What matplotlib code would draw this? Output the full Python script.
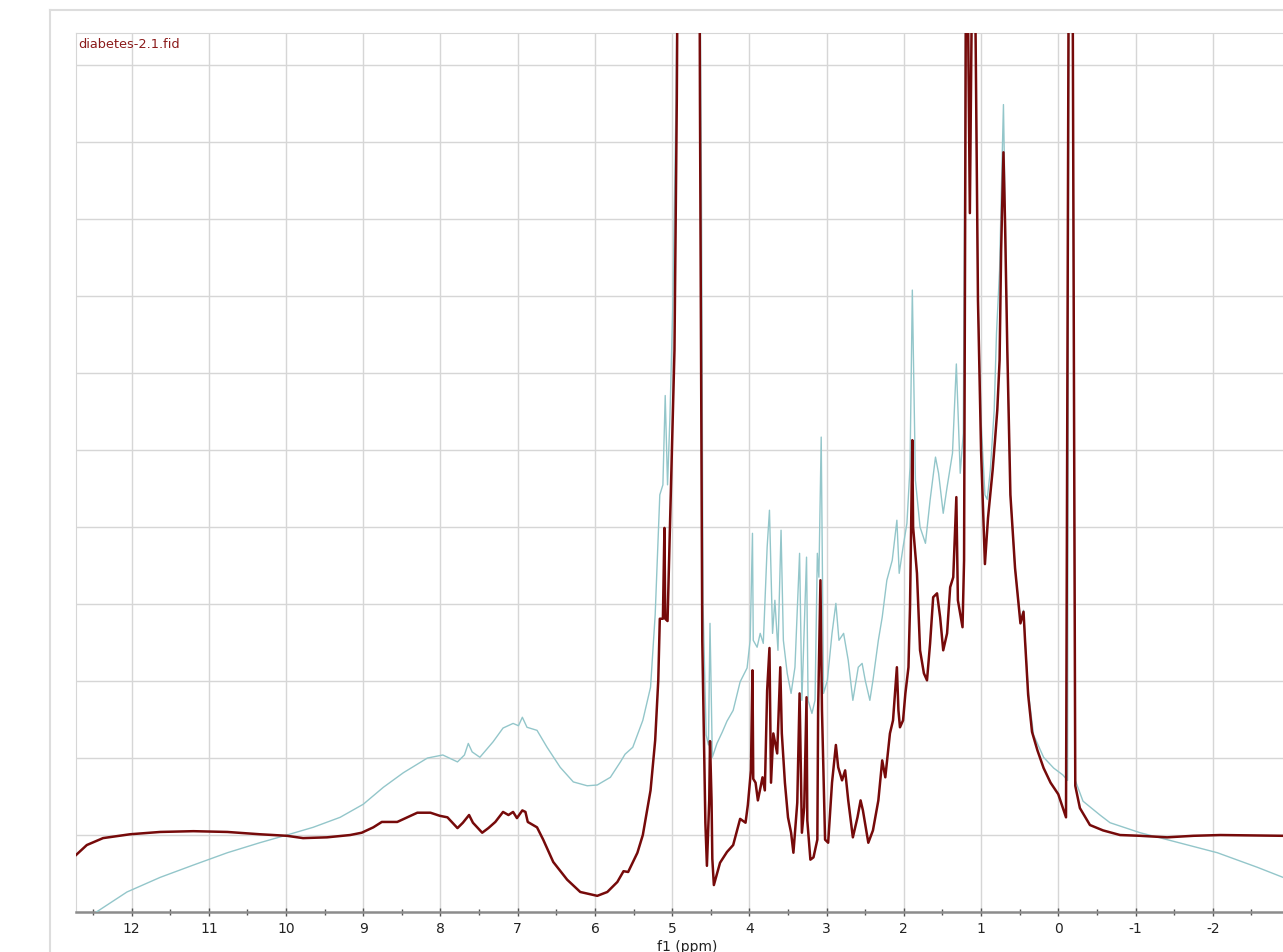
import matplotlib
matplotlib.use("Agg")
import matplotlib.pyplot as plt
from matplotlib.lines import Line2D
from matplotlib.ticker import MultipleLocator
import numpy as np

# processed spectrum (dark red), chemical shift in ppm and relative intensity
red_ppm = [12.72, 12.58, 12.37, 12.02, 11.63, 11.20, 10.76, 10.34, 9.99, 9.78, 9.47, 9.17, 9.02, 8.87, 8.76,
           8.56, 8.30, 8.13, 8.01, 7.91, 7.78, 7.71, 7.63, 7.58, 7.46, 7.38, 7.29, 7.19, 7.12, 7.06, 7.01,
           6.94, 6.90, 6.87, 6.75, 6.67, 6.54, 6.36, 6.19, 5.97, 5.84, 5.71, 5.63, 5.57, 5.45, 5.38, 5.28,
           5.22, 5.18, 5.16, 5.12, 5.10, 5.09, 5.06, 5.03, 4.97, 4.94, 4.92, 4.79, 4.65, 4.64, 4.61, 4.57,
           4.55, 4.52, 4.51, 4.49, 4.48, 4.46, 4.38, 4.29, 4.21, 4.12, 4.05, 4.02, 3.98, 3.96, 3.95, 3.92,
           3.89, 3.83, 3.80, 3.77, 3.74, 3.72, 3.69, 3.64, 3.60, 3.58, 3.54, 3.50, 3.46, 3.43, 3.38, 3.35,
           3.32, 3.29, 3.26, 3.25, 3.21, 3.17, 3.12, 3.11, 3.08, 3.06, 3.02, 2.98, 2.93, 2.88, 2.85, 2.80,
           2.76, 2.72, 2.66, 2.60, 2.56, 2.53, 2.46, 2.40, 2.33, 2.28, 2.24, 2.18, 2.14, 2.09, 2.07, 2.05,
           2.01, 1.98, 1.94, 1.92, 1.89, 1.88, 1.83, 1.79, 1.74, 1.70, 1.66, 1.62, 1.57, 1.53, 1.49, 1.44,
           1.40, 1.36, 1.32, 1.30, 1.24, 1.22, 1.19, 1.145, 1.10, 1.07, 1.04, 1.00, 0.95, 0.91, 0.85, 0.82,
           0.79, 0.76, 0.74, 0.71, 0.69, 0.66, 0.62, 0.56, 0.49, 0.45, 0.43, 0.39, 0.34, 0.27, 0.19, 0.10,
           0.00, -0.06, -0.10, -0.14, -0.18, -0.22, -0.28, -0.41, -0.58, -0.80, -1.06, -1.41, -1.75, -2.10,
           -2.91]
red_int = [0.74, 0.87, 0.96, 1.01, 1.04, 1.05, 1.04, 1.01, 0.99, 0.96, 0.97, 1.00, 1.03, 1.10, 1.17,
           1.17, 1.29, 1.29, 1.25, 1.23, 1.09, 1.16, 1.26, 1.16, 1.03, 1.09, 1.17, 1.30, 1.26, 1.30, 1.22,
           1.32, 1.30, 1.17, 1.10, 0.94, 0.65, 0.42, 0.26, 0.21, 0.26, 0.39, 0.53, 0.52, 0.77, 1.00, 1.58,
           2.23, 3.01, 3.81, 3.81, 4.99, 3.81, 3.78, 4.94, 7.30, 10.55, 14.0, 14.0, 14.0, 10.55, 3.52, 1.16,
           0.60, 1.45, 2.22, 1.45, 0.69, 0.35, 0.64, 0.78, 0.87, 1.21, 1.16, 1.39, 1.84, 3.14, 1.73, 1.68,
           1.45, 1.75, 1.58, 2.88, 3.43, 1.68, 2.32, 2.06, 3.18, 2.32, 1.68, 1.23, 1.03, 0.77, 1.42, 2.84,
           1.03, 1.36, 2.79, 1.19, 0.68, 0.71, 0.94, 2.62, 4.31, 2.62, 0.94, 0.90, 1.68, 2.17, 1.88, 1.71,
           1.84, 1.45, 0.97, 1.23, 1.45, 1.32, 0.90, 1.06, 1.45, 1.97, 1.75, 2.32, 2.49, 3.18, 2.62, 2.40,
           2.49, 2.84, 3.18, 3.96, 6.13, 5.00, 4.40, 3.40, 3.10, 3.01, 3.49, 4.09, 4.14, 3.83, 3.40, 3.62,
           4.22, 4.35, 5.39, 4.05, 3.70, 4.57, 14.0, 9.08, 14.0, 11.30, 7.95, 6.00, 4.52, 5.12, 5.74, 6.12,
           6.52, 7.17, 8.60, 9.87, 8.99, 7.30, 5.42, 4.47, 3.75, 3.90, 3.52, 2.82, 2.34, 2.10, 1.87, 1.68,
           1.53, 1.35, 1.23, 14.0, 14.0, 1.64, 1.35, 1.13, 1.06, 1.00, 0.99, 0.97, 0.99, 1.00,
           0.99]

# raw spectrum (light teal)
cyan_ppm = [12.72, 12.41, 12.06, 11.63, 11.20, 10.76, 10.34, 9.99, 9.65, 9.30, 9.00, 8.74, 8.48, 8.17,
            7.97, 7.78, 7.69, 7.64, 7.59, 7.49, 7.32, 7.19, 7.06, 6.99, 6.94, 6.88, 6.75, 6.62, 6.45, 6.28,
            6.10, 5.97, 5.80, 5.67, 5.61, 5.51, 5.38, 5.28, 5.22, 5.16, 5.12, 5.09, 5.06, 5.03, 4.99, 4.95,
            4.92, 4.79, 4.65, 4.62, 4.60, 4.56, 4.53, 4.51, 4.48, 4.42, 4.35, 4.29, 4.21, 4.12, 4.03, 3.99,
            3.96, 3.95, 3.90, 3.86, 3.82, 3.77, 3.74, 3.70, 3.67, 3.63, 3.59, 3.56, 3.51, 3.46, 3.41, 3.35,
            3.32, 3.26, 3.24, 3.19, 3.15, 3.12, 3.10, 3.07, 3.04, 2.99, 2.93, 2.88, 2.84, 2.78, 2.72, 2.66,
            2.59, 2.54, 2.50, 2.44, 2.40, 2.33, 2.28, 2.22, 2.15, 2.09, 2.06, 2.01, 1.96, 1.92, 1.89, 1.85,
            1.79, 1.72, 1.66, 1.59, 1.55, 1.49, 1.44, 1.37, 1.32, 1.27, 1.23, 1.19, 1.145, 1.10, 1.07, 1.04,
            1.00, 0.95, 0.92, 0.88, 0.85, 0.83, 0.80, 0.76, 0.74, 0.71, 0.69, 0.66, 0.62, 0.56, 0.49, 0.45,
            0.43, 0.39, 0.32, 0.19, 0.06, -0.06, -0.12, -0.14, -0.18, -0.22, -0.32, -0.54, -0.67, -1.06,
            -1.41, -2.06, -2.58, -2.91]
cyan_int = [-0.17, 0.03, 0.26, 0.45, 0.61, 0.77, 0.90, 1.00, 1.10, 1.23, 1.40, 1.62, 1.81, 2.00,
            2.04, 1.95, 2.04, 2.19, 2.08, 2.01, 2.21, 2.39, 2.45, 2.42, 2.53, 2.40, 2.36, 2.14, 1.88, 1.69,
            1.64, 1.65, 1.75, 1.95, 2.05, 2.14, 2.49, 2.92, 3.86, 5.42, 5.55, 6.71, 5.55, 6.39, 7.95, 10.55,
            14.0, 14.0, 14.0, 9.25, 3.99, 2.30, 2.17, 3.75, 2.01, 2.19, 2.34, 2.48, 2.62, 2.99, 3.17, 3.53,
            4.92, 3.53, 3.44, 3.62, 3.49, 4.74, 5.22, 3.62, 4.05, 3.40, 4.96, 3.53, 3.10, 2.84, 3.18, 4.66,
            2.75, 4.61, 2.75, 2.58, 2.75, 4.66, 4.35, 6.17, 2.84, 3.01, 3.62, 4.01, 3.53, 3.62, 3.27, 2.75,
            3.18, 3.23, 3.01, 2.75, 3.01, 3.53, 3.83, 4.31, 4.57, 5.09, 4.40, 4.74, 5.05, 5.78, 8.08, 5.61,
            5.00, 4.79, 5.35, 5.91, 5.70, 5.18, 5.52, 5.96, 7.12, 5.70, 6.22, 14.0, 9.08, 14.0, 11.30, 7.95,
            6.39, 5.42, 5.36, 5.74, 6.22, 6.52, 7.52, 8.34, 9.25, 10.49, 9.25, 7.30, 5.42, 4.47, 3.79, 3.92,
            3.56, 2.88, 2.30, 2.01, 1.87, 1.78, 1.71, 14.0, 14.0, 1.71, 1.44, 1.26, 1.16, 1.03,
            0.94, 0.77, 0.58, 0.45]

x_ticks = list(range(12, -3, -1))
file_label = "diabetes-2.1.fid"

plt.rcParams['axes.unicode_minus'] = False
plt.rcParams['font.family'] = ['DejaVu Sans']

fig = plt.figure(figsize=(12.83, 9.52), dpi=100)
W, H = 1283, 952
ax = fig.add_axes([76 / W, 40 / H, (W - 76) / W, 879 / H])

ax.plot(cyan_ppm, cyan_int, color='#93c6ca', lw=1.0, zorder=3)
ax.plot(red_ppm, red_int, color='#760a0a', lw=1.8, zorder=4)

ax.set_xlim(12.72, -2.91)
ax.set_ylim(0, 11.42)

ax.set_xticks(x_ticks)
ax.set_xticklabels([str(t) for t in x_ticks])
ax.xaxis.set_minor_locator(MultipleLocator(0.5))
ax.set_yticks(range(1, 12))
ax.tick_params(axis='y', left=False, labelleft=False)
ax.tick_params(axis='x', which='major', direction='inout', length=6, width=1, color='#555555',
               labelsize=10, labelcolor='#222222', pad=4)
ax.tick_params(axis='x', which='minor', direction='inout', length=4, width=1, color='#555555')
ax.grid(True, which='major', color='#d6d6d6', lw=1.0, zorder=0)

ax.spines['right'].set_visible(False)
ax.spines['left'].set_color('#d6d6d6')
ax.spines['top'].set_color('#d6d6d6')
ax.spines['bottom'].set_color('#8c8c8c')
ax.spines['bottom'].set_linewidth(1.8)

# outer panel frame
fig.add_artist(Line2D([50 / W, 50 / W], [0, (H - 10) / H], color='#dddddd', lw=1.5))
fig.add_artist(Line2D([50 / W, 1], [(H - 10) / H, (H - 10) / H], color='#dddddd', lw=1.5))

fig.text(78 / W, (H - 44) / H, file_label, color='#8b1a1a', fontsize=9.3, ha='left', va='center')
fig.text(687 / W, (H - 940) / H, "f1 (ppm)", color='#222222', fontsize=10, ha='center', va='top')

fig.savefig("out.png", dpi=100)
